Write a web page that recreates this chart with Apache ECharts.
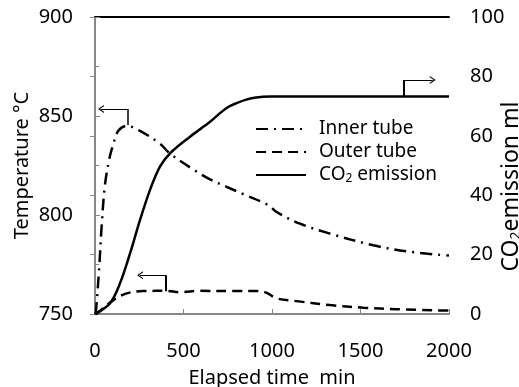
<!DOCTYPE html>
<html><head><meta charset="utf-8">
<script src="https://cdn.jsdelivr.net/npm/echarts@6/dist/echarts.min.js"></script>
<style>html,body{margin:0;padding:0;background:#fff}#c{width:519px;height:387px}</style>
</head><body><div id="c"></div>
<script>
// ---- data ----
var xTicks = [0, 500, 1000, 1500, 2000];
var tempTicks = [750, 800, 850, 900];
var co2Ticks = [0, 20, 40, 60, 80, 100];
var innerTube = [[0,750],[5,751],[24,774],[38,795],[56,815],[80,828],[104,836],[132,842.5],[179,845],[254,842.5],[367,836],[424,831],[555,823],[650,818],[750,814],[838,810.5],[979,805],[1026,801.5],[1158,795.6],[1328,790.6],[1572,784.7],[1780,781.4],[2000,779.5]];
var outerTube = [[0,750],[10,750.3],[104,757],[179,760.4],[273,761.6],[405,761.7],[480,761],[593,761.7],[781,761.6],[913,761.6],[970,760.7],[1026,757.9],[1139,756.5],[1328,754.5],[1516,753.2],[1704,752.4],[2000,751.7]];
var co2 = [[0,0],[10,0.2],[85,3.6],[141,10.3],[198,20.4],[254,31.6],[311,41.8],[367,49.6],[424,54.1],[537,59.7],[650,64.7],[700,67.3],[750,69.6],[800,71.0],[850,72.1],[900,72.8],[989,73.2],[2000,73.2]];
// callout arrows (data coordinates): vertical foot, corner, arrow tip
var innerArrow = [[185,845.5],[185,853.5],[34,853.5]];
var outerArrow = [[401,761.5],[401,769.6],[254,769.6]];
var co2Arrow = [[1747,73.2],[1747,78.8],[1908,78.8]];
var names = ['Inner tube', 'Outer tube', 'CO2 emission'];

var FONT = '"Noto Sans", "DejaVu Sans", sans-serif';
var GREY = '#868686';
var chevron = 'path://M0,10 L5,0 L10,10 L8.4,10 L5,3.2 L1.6,10 Z';

function callout(pts, w) {
  return {
    silent: true, animation: false,
    symbol: ['none', 'none'],
    label: {show: false},
    emphasis: {disabled: true},
    lineStyle: {color: '#000', type: 'solid', width: 1},
    data: [
      [{coord: pts[0], lineStyle: {width: w, color: '#000', type: 'solid'}}, {coord: pts[1]}],
      [{coord: pts[1], symbol: 'none'}, {coord: pts[2], symbol: chevron, symbolSize: [8, 6]}]
    ]
  };
}

var chart = echarts.init(document.getElementById('c'));
chart.setOption({
  animation: false,
  backgroundColor: '#fff',
  textStyle: {fontFamily: FONT, color: '#000'},
  grid: {left: 95, right: 70, top: 17, bottom: 73, containLabel: false, outerBoundsMode: 'none'},
  legend: {
    orient: 'vertical', left: 250, top: 114,
    itemWidth: 50, itemHeight: 14, itemGap: 3,
    data: names,
    itemStyle: {opacity: 0},
    formatter: function (n) { return n === 'CO2 emission' ? '{a|CO}{s|2}{a| emission}' : '{a|' + n + '}'; },
    textStyle: {
      fontFamily: FONT, fontSize: 19, color: '#000', padding: [0, 0, 0, 8], lineHeight: 20,
      rich: {a: {fontFamily: FONT, fontSize: 19, color: '#000'}, s: {fontFamily: FONT, fontSize: 12, color: '#000', padding: [8, 0, 0, 0]}}
    }
  },
  xAxis: [{
    type: 'value', min: 0, max: 2000, interval: 500,
    name: 'Elapsed time  min', nameLocation: 'middle', nameGap: 54, nameMoveOverlap: false,
    nameTextStyle: {fontFamily: FONT, fontSize: 20, color: '#000'},
    axisLine: {show: true, onZero: false, lineStyle: {color: GREY, width: 2}},
    axisTick: {show: true, inside: true, length: 5, lineStyle: {color: GREY, width: 1}},
    axisLabel: {margin: 27, fontFamily: FONT, fontSize: 20, color: '#000', formatter: function (v) { return xTicks.indexOf(v) >= 0 ? String(v) : ''; }},
    splitLine: {show: false}
  }, {
    type: 'value', position: 'top', min: 0, max: 2000,
    axisLine: {show: true, onZero: false, lineStyle: {color: '#000', width: 2}},
    axisTick: {show: false}, axisLabel: {show: false}, splitLine: {show: false}
  }],
  yAxis: [{
    type: 'value', min: 750, max: 900, interval: 50, position: 'left',
    name: 'Temperature °C', nameLocation: 'middle', nameGap: 63, nameRotate: 90, nameMoveOverlap: false,
    nameTextStyle: {fontFamily: FONT, fontSize: 20, color: '#000'},
    axisLine: {show: true, lineStyle: {color: GREY, width: 2}},
    axisTick: {show: true, inside: true, length: 5, lineStyle: {color: GREY, width: 1}},
    minorTick: {show: true, splitNumber: 2, length: 4, lineStyle: {color: GREY, width: 1}},
    axisLabel: {margin: 22, fontFamily: FONT, fontSize: 20, color: '#000', formatter: function (v) { return tempTicks.indexOf(v) >= 0 ? String(v) : ''; }},
    splitLine: {show: false}
  }, {
    type: 'value', min: 0, max: 100, interval: 20, position: 'right',
    name: '{a|CO}{s|2}{a|emission ml}', nameLocation: 'middle', nameGap: 50, nameRotate: 90, nameMoveOverlap: false,
    nameTextStyle: {fontFamily: FONT, fontSize: 23, color: '#000', padding: [0, 42, 0, 0],
      rich: {a: {fontFamily: FONT, fontSize: 23, color: '#000'}, s: {fontFamily: FONT, fontSize: 14, color: '#000', padding: [10, 0, 0, 0]}}},
    axisLine: {show: true, lineStyle: {color: GREY, width: 2}},
    axisTick: {show: true, inside: true, length: 5, lineStyle: {color: GREY, width: 1}},
    axisLabel: {margin: 21, fontFamily: FONT, fontSize: 20, color: '#000', formatter: function (v) { return co2Ticks.indexOf(v) >= 0 ? String(v) : ''; }},
    splitLine: {show: false}
  }],
  series: [{
    name: 'Inner tube', type: 'line', xAxisIndex: 0, yAxisIndex: 0, data: innerTube,
    smooth: 0.35, symbol: 'none', showSymbol: false, color: '#000',
    lineStyle: {color: '#000', width: 2.5, type: [12, 6, 2, 6]},
    markLine: callout(innerArrow, 1.5)
  }, {
    name: 'Outer tube', type: 'line', xAxisIndex: 0, yAxisIndex: 0, data: outerTube,
    smooth: 0.35, symbol: 'none', showSymbol: false, color: '#000',
    lineStyle: {color: '#000', width: 2.5, type: [10, 6]},
    markLine: callout(outerArrow, 2)
  }, {
    name: 'CO2 emission', type: 'line', xAxisIndex: 0, yAxisIndex: 1, data: co2,
    smooth: 0.35, symbol: 'none', showSymbol: false, color: '#000',
    lineStyle: {color: '#000', width: 2.5, type: 'solid'},
    markLine: callout(co2Arrow, 2)
  }]
});
</script>
</body></html>
